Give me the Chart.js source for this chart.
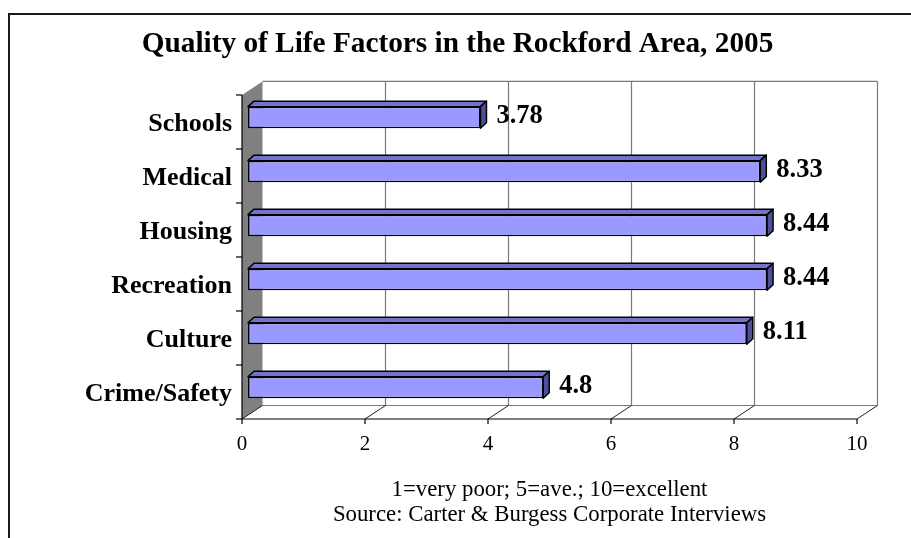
<!DOCTYPE html>
<html>
<head>
<meta charset="utf-8">
<script src="https://cdn.jsdelivr.net/npm/chart.js@4"></script>
<style>
  html, body { margin: 0; padding: 0; background: #ffffff; }
  canvas { display: block; }
</style>
</head>
<body>
<canvas id="chart" width="911" height="538"></canvas>
<script>
// Survey scores by factor (1 = very poor, 10 = excellent)
const categories = ['Schools', 'Medical', 'Housing', 'Recreation', 'Culture', 'Crime/Safety'];
const scores = [3.78, 8.33, 8.44, 8.44, 8.11, 4.8];
const xTicks = [0, 2, 4, 6, 8, 10];
const chartTitle = 'Quality of Life Factors in the Rockford Area, 2005';
const footnotes = ['1=very poor; 5=ave.; 10=excellent', 'Source: Carter & Burgess Corporate Interviews'];

// Pseudo-3D projection of the plot box
const WALL_DX = 20.5, WALL_DY = -13.5;   // depth of the whole plot box
const BAR_SHIFT_X = 6, BAR_SHIFT_Y = -4.5; // bars sit slightly inside the box
const BAR_DX = 6, BAR_DY = -5.5;         // depth of each bar
const SERIF = '"Liberation Serif", "Times New Roman", serif';

Chart.defaults.font.family = SERIF;

function line(ctx, x1, y1, x2, y2) {
  ctx.beginPath();
  ctx.moveTo(x1, y1);
  ctx.lineTo(x2, y2);
  ctx.stroke();
}

const box3d = {
  id: 'box3d',
  beforeDatasetsDraw(chart) {
    const { ctx, chartArea: a, scales: { x } } = chart;
    ctx.save();
    // left side wall
    ctx.fillStyle = '#808080';
    ctx.beginPath();
    ctx.moveTo(a.left, a.top);
    ctx.lineTo(a.left + WALL_DX, a.top + WALL_DY);
    ctx.lineTo(a.left + WALL_DX, a.bottom + WALL_DY);
    ctx.lineTo(a.left, a.bottom);
    ctx.closePath();
    ctx.fill();

    // back wall: gridlines and outline
    ctx.strokeStyle = '#7a7a7a';
    ctx.lineWidth = 1.2;
    xTicks.forEach(v => {
      if (v === 0) return;
      const px = x.getPixelForValue(v) + WALL_DX;
      line(ctx, px, a.top + WALL_DY, px, a.bottom + WALL_DY);
    });
    line(ctx, a.left + WALL_DX, a.top + WALL_DY, a.right + WALL_DX, a.top + WALL_DY);
    line(ctx, a.left + WALL_DX, a.bottom + WALL_DY, a.right + WALL_DX, a.bottom + WALL_DY);

    // floor lines running from each front tick to the back wall
    ctx.strokeStyle = '#222222';
    ctx.lineWidth = 1;
    xTicks.forEach(v => {
      const px = x.getPixelForValue(v);
      line(ctx, px, a.bottom, px + WALL_DX, a.bottom + WALL_DY);
    });

    // front value axis with tick marks
    ctx.strokeStyle = '#000000';
    ctx.lineWidth = 1.2;
    line(ctx, a.left, a.bottom, a.right, a.bottom);
    xTicks.forEach(v => {
      const px = x.getPixelForValue(v);
      line(ctx, px, a.bottom, px, a.bottom + 5);
    });

    // front category axis with tick marks between bands
    line(ctx, a.left, a.top, a.left, a.bottom);
    const band = (a.bottom - a.top) / categories.length;
    for (let i = 0; i <= categories.length; i++) {
      const py = a.top + i * band;
      line(ctx, a.left - 6, py, a.left, py);
    }
    ctx.restore();

    // bars are drawn a little inside the box
    ctx.save();
    ctx.translate(BAR_SHIFT_X, BAR_SHIFT_Y);
  },
  afterDatasetsDraw(chart) {
    const { ctx } = chart;
    const meta = chart.getDatasetMeta(0);
    ctx.lineWidth = 1.5;
    ctx.strokeStyle = '#000000';
    ctx.lineJoin = 'round';
    meta.data.forEach((bar, i) => {
      const { x, y, base, height } = bar.getProps(['x', 'y', 'base', 'height'], true);
      const top = y - height / 2;
      const bot = y + height / 2;

      // top face
      ctx.fillStyle = '#7373CC';
      ctx.beginPath();
      ctx.moveTo(base, top);
      ctx.lineTo(base + BAR_DX, top + BAR_DY);
      ctx.lineTo(x + BAR_DX, top + BAR_DY);
      ctx.lineTo(x, top);
      ctx.closePath();
      ctx.fill();
      ctx.stroke();

      // end face
      ctx.fillStyle = '#4F4F99';
      ctx.beginPath();
      ctx.moveTo(x, top);
      ctx.lineTo(x + BAR_DX, top + BAR_DY);
      ctx.lineTo(x + BAR_DX, bot + BAR_DY);
      ctx.lineTo(x, bot);
      ctx.closePath();
      ctx.fill();
      ctx.stroke();

      // value label
      ctx.fillStyle = '#000000';
      ctx.font = 'bold 26.5px ' + SERIF;
      ctx.textAlign = 'left';
      ctx.textBaseline = 'alphabetic';
      ctx.fillText(String(scores[i]), x + BAR_DX + 10, y + 5.5);
    });
    ctx.restore();
  },
  afterDraw(chart) {
    const { ctx } = chart;
    ctx.save();
    ctx.fillStyle = '#1a1a1a';
    ctx.fillRect(8, 13, 2, chart.height);
    ctx.fillRect(8, 13, chart.width, 2);
    ctx.restore();
  }
};

new Chart(document.getElementById('chart'), {
  type: 'bar',
  data: {
    labels: categories,
    datasets: [{
      data: scores,
      backgroundColor: '#9999FF',
      borderColor: '#000000',
      borderWidth: 1.5,
      borderSkipped: false,
      barPercentage: 0.4,
      categoryPercentage: 1.0
    }]
  },
  options: {
    indexAxis: 'y',
    responsive: false,
    devicePixelRatio: 1,
    animation: false,
    layout: { padding: { left: 58, right: 54, top: 0, bottom: 0 } },
    plugins: {
      legend: { display: false },
      tooltip: { enabled: false },
      title: {
        display: true,
        text: chartTitle,
        color: '#000000',
        font: { size: 29.3, weight: 'bold', lineHeight: 1.2 },
        padding: { top: 27, bottom: 32.8 }
      }
    },
    scales: {
      x: {
        type: 'linear',
        min: 0,
        max: 10,
        afterBuildTicks: s => { s.ticks = xTicks.map(v => ({ value: v })); },
        afterFit: s => { s.height = 119; },
        grid: { display: false },
        border: { display: false },
        ticks: { color: '#000000', font: { size: 21 }, padding: 5, maxRotation: 0 },
        title: {
          display: true,
          text: footnotes,
          color: '#000000',
          font: { size: 22.8, lineHeight: 1.12 },
          padding: { top: 0, bottom: 10 }
        }
      },
      y: {
        afterFit: s => { s.width = 184; },
        grid: { display: false },
        border: { display: false },
        ticks: { color: '#000000', font: { size: 26, weight: 'bold' }, padding: 2, labelOffset: 2.5 }
      }
    }
  },
  plugins: [box3d]
});
</script>
</body>
</html>
